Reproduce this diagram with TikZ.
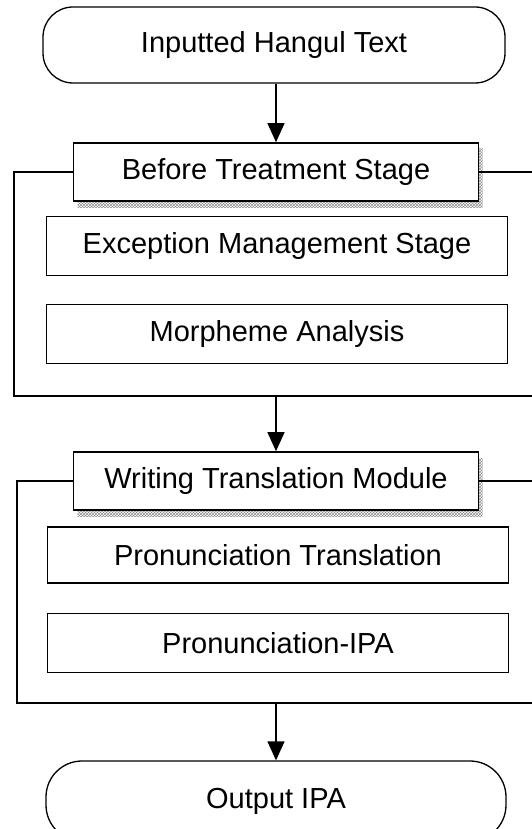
\documentclass[tikz,border=0pt]{standalone}
\usepackage{fontspec}
\setmainfont{Liberation Sans}
\usetikzlibrary{arrows.meta,positioning,calc,shadows,patterns}

\begin{document}
\begin{tikzpicture}[
  x=1pt, y=-1pt,
  >={Triangle[length=19pt,width=17pt]},
  every node/.style={font=\fontsize{29}{34}\selectfont},
  term/.style={draw, line width=1.3pt, rounded corners=30pt, minimum width=462pt, minimum height=76pt},
  stagebox/.style={draw, line width=1.6pt, fill=white, minimum width=405pt, minimum height=58pt,
    drop shadow={shadow xshift=4pt, shadow yshift=-6pt, opacity=1, fill=none, pattern=crosshatch, pattern color=black!45}},
  subbox/.style={draw, line width=1.6pt, minimum width=461pt, minimum height=59pt},
  frameline/.style={line width=1.3pt},
  arr/.style={->, line width=1.3pt}
]
\path[use as bounding box, clip] (0,0) rectangle (532,829);

\node[term] (in) at (274,45) {Inputted Hangul Text};
\node[stagebox] (bt) at (276,172) {Before Treatment Stage};
\node[subbox] (ex) at (277,246) {Exception Management Stage};
\node[subbox] (mo) at (277,334) {Morpheme Analysis};
\coordinate (f1l) at (14,396);
\coordinate (f1r) at (540,396);
\coordinate (f1m) at (276,396);

\node[stagebox] (wt) at (276,481) {Writing Translation Module};
\node[subbox, minimum height=56pt] (pt) at (278,555) {Pronunciation Translation};
\node[subbox] (pi) at (278,643) {Pronunciation-IPA};
\coordinate (f2l) at (17,703);
\coordinate (f2r) at (540,703);
\coordinate (f2m) at (276,703);

\node[term, minimum width=460pt, minimum height=80pt, rounded corners=36pt] (out) at (276,801) {Output IPA};

% frames round the two stages
\draw[frameline] (bt.west) -| (f1l) -- (f1r);
\draw[frameline] (bt.east) -- (bt.east -| f1r);
\draw[frameline] (wt.west) -| (f2l) -- (f2r);
\draw[frameline] (wt.east) -- (wt.east -| f2r);

\draw[arr] (in.south -| bt.north) -- (bt);
\draw[arr] (f1m) -- (wt);
\draw[arr] (f2m) -- (out);
\end{tikzpicture}
\end{document}
